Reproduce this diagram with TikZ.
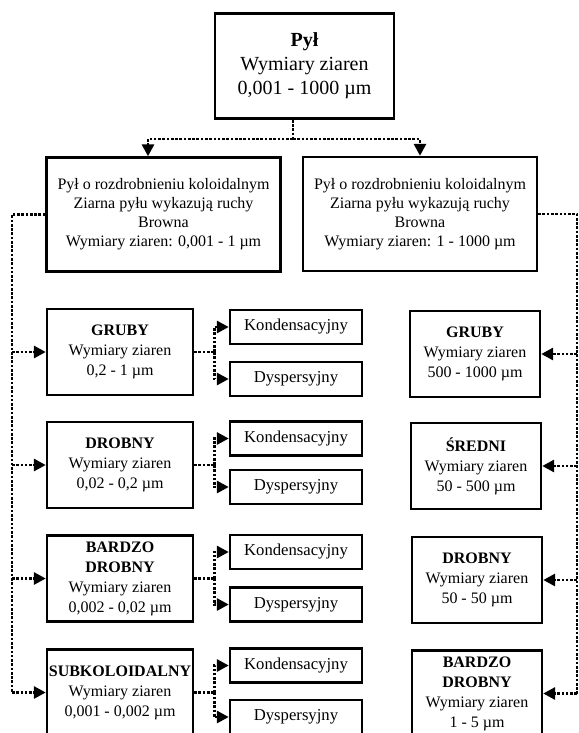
\documentclass[tikz,border=0pt]{standalone}
\usepackage{fontspec}
\setmainfont{Liberation Serif}
\usetikzlibrary{arrows.meta,calc,positioning}

\tikzset{
  box/.style={draw,line width=1.8pt,align=center,inner sep=0pt},
  topbox/.style={box,minimum width=134pt,minimum height=79pt,font=\fontsize{15}{18}\selectfont},
  midbox/.style={box,minimum width=175.5pt,minimum height=85.5pt,font=\fontsize{12}{14.25}\selectfont},
  leftbox/.style={box,minimum width=109.5pt,minimum height=64.5pt,font=\fontsize{12}{15}\selectfont},
  rightbox/.style={box,minimum width=97.5pt,minimum height=64.5pt,font=\fontsize{12}{15}\selectfont},
  smallbox/.style={box,minimum width=99pt,minimum height=25.5pt,font=\fontsize{12.5}{15}\selectfont},
  dotline/.style={line width=2.2pt,dash pattern=on 2pt off 1.2pt},
  dotarrow/.style={dotline,->}
}

\begin{document}
\begin{tikzpicture}[x=0.75pt,y=-0.75pt,>={Triangle[length=9pt,width=9pt]}]
\useasboundingbox (0,0) rectangle (579,733);
\clip (0,0) rectangle (579,733);

% gorny poziom
\node[topbox] (pyl) at (304.5,66) {\textbf{Pył}\\Wymiary ziaren\\0,001 - 1000 µm};
\node[midbox] (kol) at (163.5,214.5) {Pył o rozdrobnieniu koloidalnym\\Ziarna pyłu wykazują ruchy\\Browna\\Wymiary ziaren: 0,001 - 1 µm};
\node[midbox] (brw) at (420,214) {Pył o rozdrobnieniu koloidalnym\\Ziarna pyłu wykazują ruchy\\Browna\\Wymiary ziaren: 1 - 1000 µm};

% lewa kolumna
\node[leftbox] (g1) at (120,352) {\textbf{GRUBY}\\Wymiary ziaren\\0,2 - 1 µm};
\node[leftbox] (g2) at (120,465) {\textbf{DROBNY}\\Wymiary ziaren\\0,02 - 0,2 µm};
\node[leftbox] (g3) at (120,578.5) {\textbf{BARDZO}\\\textbf{DROBNY}\\Wymiary ziaren\\0,002 - 0,02 µm};
\node[leftbox] (g4) at (120,692.5) {\textbf{SUBKOLOIDALNY}\\Wymiary ziaren\\0,001 - 0,002 µm};

\node[smallbox] (g1k) at (296,327) {Kondensacyjny};
\node[smallbox] (g1d) at (296,379) {Dyspersyjny};
\node[smallbox] (g2k) at (296,438.5) {Kondensacyjny};
\node[smallbox] (g2d) at (296,487) {Dyspersyjny};
\node[smallbox] (g3k) at (296,552) {Kondensacyjny};
\node[smallbox] (g3d) at (296,604.5) {Dyspersyjny};
\node[smallbox] (g4k) at (296,665.5) {Kondensacyjny};
\node[smallbox] (g4d) at (296,717) {Dyspersyjny};

% prawa kolumna
\node[rightbox] (r1) at (475,354) {\textbf{GRUBY}\\Wymiary ziaren\\500 - 1000 µm};
\node[rightbox] (r2) at (476,466) {\textbf{ŚREDNI}\\Wymiary ziaren\\50 - 500 µm};
\node[rightbox] (r3) at (477,580) {\textbf{DROBNY}\\Wymiary ziaren\\50 - 50 µm};
\node[rightbox] (r4) at (477,693.5) {\textbf{BARDZO}\\\textbf{DROBNY}\\Wymiary ziaren\\1 - 5 µm};

% polaczenia
\coordinate (split) at (293,139);
\draw[dotline] ($(pyl.south)+(-11.5,0)$) -- (split);
\draw[dotarrow] (split) -| ($(kol.north)+(-15.5,0)$);
\draw[dotarrow] (split) -| (brw.north);

\coordinate (lbus) at (12,214.5);
\coordinate (rbus) at (577,214);
\draw[dotline] (kol.west) -- (lbus) -- (lbus |- g4.west);
\draw[dotline] (brw.east) -- (rbus) -- (rbus |- r4.east);
\foreach \n in {g1,g2,g3,g4}
  \draw[dotarrow] (lbus |- \n.west) -- (\n.west);
\foreach \n in {r1,r2,r3,r4}
  \draw[dotarrow] (rbus |- \n.east) -- (\n.east);

\foreach \n in {g1,g2,g3,g4} {
  \coordinate (\n s) at ($(\n.east)+(20,0)$);
  \draw[dotline] (\n.east) -- (\n s);
  \draw[dotarrow] (\n s) |- (\n k.west);
  \draw[dotarrow] (\n s) |- (\n d.west);
}
\end{tikzpicture}
\end{document}
